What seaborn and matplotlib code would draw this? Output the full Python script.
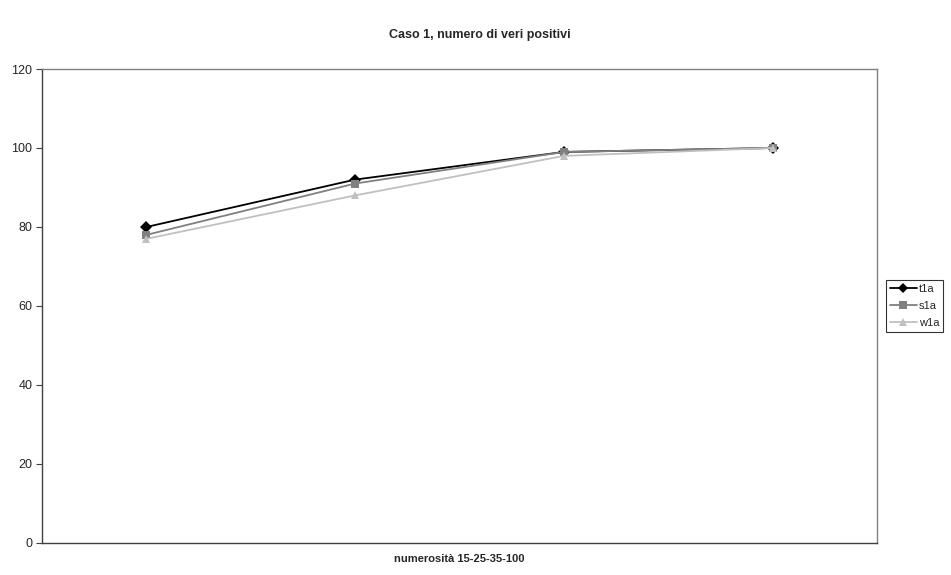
import matplotlib
matplotlib.use("Agg")
import matplotlib.pyplot as plt
import seaborn as sns
import pandas as pd
import numpy as np

categories = ["15", "25", "35", "100"]
t1a = [80, 92, 99, 100]
s1a = [78, 91, 99, 100]
w1a = [77, 88, 98, 100]
series_names = ["t1a", "s1a", "w1a"]
yticks = [0, 20, 40, 60, 80, 100, 120]

sns.set_style("white")
plt.rcParams["font.family"] = ["Liberation Sans", "DejaVu Sans"]

rows = []
for name, vals in zip(series_names, [t1a, s1a, w1a]):
    for i, (c, v) in enumerate(zip(categories, vals)):
        rows.append({"pos": i, "cat": c, "value": v, "serie": name})
df = pd.DataFrame(rows)

fig = plt.figure(figsize=(9.51, 5.75), dpi=100)
ax = fig.add_axes([0.0442, 0.0557, 0.8780, 0.8243])

palette = {"t1a": "#000000", "s1a": "#808080", "w1a": "#C0C0C0"}
markers = {"t1a": "D", "s1a": "s", "w1a": "^"}
sns.lineplot(data=df, x="pos", y="value", hue="serie", style="serie",
             palette=palette, markers=markers, dashes=False,
             markersize=6, linewidth=1.3, markeredgewidth=0,
             hue_order=series_names, style_order=series_names,
             ax=ax, legend=True)

ax.set_xlim(-0.5, len(categories) - 0.5)
ax.set_ylim(0, 120)
ax.set_yticks(yticks)
ax.set_yticklabels([str(v) for v in yticks], fontsize=9)
ax.set_xticks([])
ax.tick_params(axis="y", length=4, width=0.8, color="#404040", pad=3, left=True)
for s in ax.spines.values():
    s.set_color("#808080")
    s.set_linewidth(1)
ax.spines["left"].set_color("#404040")
ax.spines["bottom"].set_color("#404040")

ax.set_xlabel("numerosità 15-25-35-100", fontsize=8, fontweight="bold", labelpad=8)
ax.set_ylabel("")
fig.suptitle("Caso 1, numero di veri positivi", fontsize=9, fontweight="bold",
             x=0.505, y=0.950)

handles, labels = ax.get_legend_handles_labels()
order = [labels.index(n) for n in series_names]
leg = ax.legend([handles[i] for i in order], [labels[i] for i in order],
                loc="center left", bbox_to_anchor=(1.011, 0.5), frameon=True,
                fancybox=False, fontsize=8, handlelength=2.4, handletextpad=0.2,
                borderpad=0.35, labelspacing=0.65, borderaxespad=0,
                markerscale=0.9)
leg.get_frame().set_edgecolor("#000000")
leg.get_frame().set_linewidth(0.8)

fig.savefig("out.png", dpi=100)
